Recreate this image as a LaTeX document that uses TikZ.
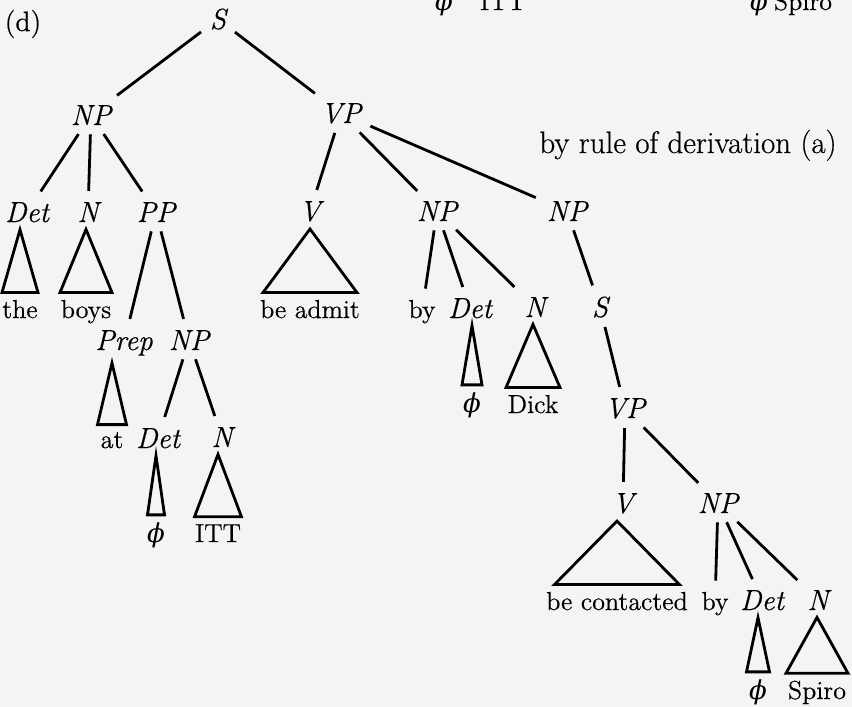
\documentclass[tikz,border=0pt]{standalone}
\usepackage{fontspec}
\setmainfont{Latin Modern Roman}[FakeBold=0.5]
\newfontfamily\grk{DejaVu Serif}
\newcommand{\ph}{{\grk\itshape ϕ}}
\definecolor{paper}{RGB}{244,244,244}
% roof: label, leaf, half width of the base
\newcommand{\roof}[3]{%
  \draw (#2.north |- #1.south) -- ([xshift=-#3]#2.north) -- ([xshift=#3]#2.north) -- cycle;}
\begin{document}
\begin{tikzpicture}[x=0.5pt,y=-0.5pt,line width=1.4pt,
  cat/.style={anchor=base,inner sep=3pt,font=\fontsize{14.5}{16}\selectfont\itshape},
  word/.style={anchor=base,inner sep=3pt,font=\fontsize{13}{15}\selectfont},
  edge/.style={shorten <=1pt,shorten >=2pt}]
\useasboundingbox (0,0) rectangle (852,707);
\fill[paper] (0,0) rectangle (852,707);
% cut off line of the previous tree
\node[word] (phia) at (444,10) {\ph};
\node[word] (itta) at (503,10) {ITT};
\node[word] (phic) at (759,10) {\ph};
\node[word] (spiroa) at (803,10) {Spiro};
\node[word,font=\fontsize{14}{16}\selectfont] (d) at (23,31) {(d)};
\node[word,font=\fontsize{15.5}{17}\selectfont] (rule) at (688,153) {by rule of derivation (a)};
% top
\node[cat] (s) at (218,29) {S};
\node[cat] (np) at (91,125) {NP};
\node[cat] (vp) at (341,123) {VP};
% subject
\node[cat] (det) at (27,222) {Det};
\node[cat] (n) at (88,222) {N};
\node[cat] (pp) at (156,222) {PP};
\node[word] (the) at (20,318) {the};
\node[word] (boys) at (86,318) {boys};
\node[cat] (prep) at (124,350) {Prep};
\node[cat] (npd) at (189,350) {NP};
\node[word] (at) at (112,448) {at};
\node[cat] (detd) at (158,448) {Det};
\node[cat] (nd) at (222,447) {N};
\node[word] (phid) at (156,542) {\ph};
\node[word] (itt) at (218,542) {ITT};
% predicate
\node[cat] (v) at (310,221) {V};
\node[cat] (npb) at (437,221) {NP};
\node[cat] (npc) at (567,221) {NP};
\node[word] (admit) at (310,318) {be admit};
\node[word] (by) at (422,318) {by};
\node[cat] (detb) at (470,318) {Det};
\node[cat] (nb) at (535,317) {N};
\node[cat] (sb) at (600,317) {S};
\node[word] (phib) at (472,412) {\ph};
\node[word] (dick) at (533,413) {Dick};
\node[cat] (vpb) at (625,418) {VP};
\node[cat] (vb) at (623,513) {V};
\node[cat] (npe) at (718,513) {NP};
\node[word] (contacted) at (617,610) {be contacted};
\node[word] (bye) at (715,610) {by};
\node[cat] (dete) at (762,610) {Det};
\node[cat] (ne) at (818,610) {N};
\node[word] (phie) at (758,699) {\ph};
\node[word] (spiro) at (817,699) {Spiro};
% branches
\draw[edge] (s) -- (np);
\draw[edge] (s) -- (vp);
\draw[edge] (np) -- (det);
\draw[edge] (np) -- (n);
\draw[edge] (np) -- (pp);
\draw[edge] (pp) -- (prep);
\draw[edge] (pp) -- (npd);
\draw[edge] (npd) -- (detd);
\draw[edge] (npd) -- (nd);
\draw[edge] (vp) -- (v);
\draw[edge] (vp) -- (npb);
\draw[edge] (vp) -- (npc);
\draw[edge] (npb) -- (by);
\draw[edge] (npb) -- (detb);
\draw[edge] (npb) -- (nb);
\draw[edge] (npc) -- (sb);
\draw[edge] (sb) -- (vpb);
\draw[edge] (vpb) -- (vb);
\draw[edge] (vpb) -- (npe);
\draw[edge] (npe) -- (bye);
\draw[edge] (npe) -- (dete);
\draw[edge] (npe) -- (ne);
% roofs
\roof{det}{the}{9pt}
\roof{n}{boys}{13pt}
\roof{prep}{at}{7.25pt}
\roof{detd}{phid}{4.25pt}
\roof{nd}{itt}{11.75pt}
\roof{v}{admit}{23.5pt}
\roof{detb}{phib}{5pt}
\roof{nb}{dick}{13.5pt}
\roof{vb}{contacted}{31.25pt}
\roof{dete}{phie}{5.75pt}
\roof{ne}{spiro}{15.5pt}
\end{tikzpicture}
\end{document}
